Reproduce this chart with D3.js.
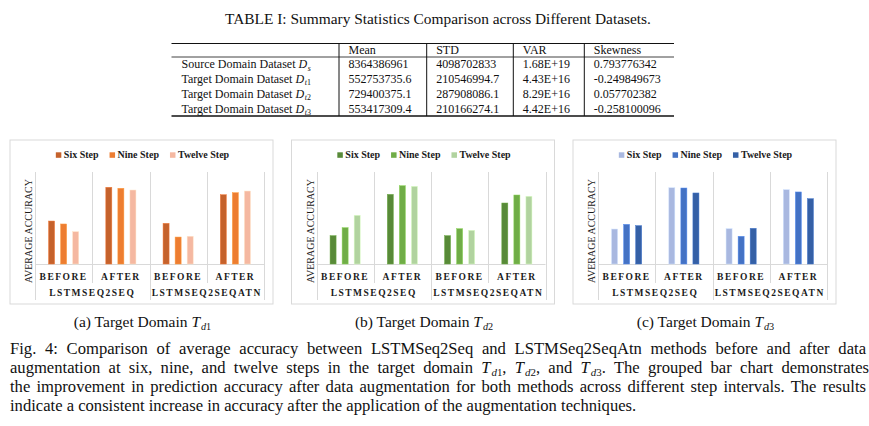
<!DOCTYPE html>
<html>
<head>
<meta charset="utf-8">
<script src="https://cdn.jsdelivr.net/npm/d3@7"></script>
<style>
  body { margin: 0; background: #fff; }
  svg { display: block; }
</style>
</head>
<body>
<div id="fig"></div>
<script>
// table I values (kept as printed)
var tableHeader = ["Mean", "STD", "VAR", "Skewness"];
var datasetNames = ["Source Domain Dataset", "Target Domain Dataset", "Target Domain Dataset", "Target Domain Dataset"];
var datasetSubs = [["s"], ["t", "1"], ["t", "2"], ["t", "3"]];
var meanValues = ["8364386961", "552753735.6", "729400375.1", "553417309.4"];
var stdValues = ["4098702833", "210546994.7", "287908086.1", "210166274.1"];
var varValues = ["1.68E+19", "4.43E+16", "8.29E+16", "4.42E+16"];
var skewValues = ["0.793776342", "-0.249849673", "0.057702382", "-0.258100096"];

// bar charts (average accuracy, relative, no ticks in the source)
var methods = ["LSTMSEQ2SEQ", "LSTMSEQ2SEQATN"];
var phases = ["BEFORE", "AFTER"];
var steps = ["Six Step", "Nine Step", "Twelve Step"];

var td1Six = [0.467, 0.834, 0.442, 0.753];
var td1Nine = [0.435, 0.823, 0.293, 0.775];
var td1Twelve = [0.351, 0.804, 0.301, 0.793];

var td2Six = [0.308, 0.757, 0.308, 0.663];
var td2Nine = [0.395, 0.851, 0.384, 0.750];
var td2Twelve = [0.529, 0.844, 0.366, 0.736];

var td3Six = [0.380, 0.829, 0.384, 0.808];
var td3Nine = [0.431, 0.826, 0.301, 0.783];
var td3Twelve = [0.417, 0.772, 0.388, 0.710];

var subCaptions = ["(a)", "(b)", "(c)"];
var subIndex = ["1", "2", "3"];

var serif = "'Liberation Serif', 'Times New Roman', serif";
var ink = "#111";

var svg = d3.select("#fig").append("svg")
  .attr("width", 869)
  .attr("height", 426);

// writes text made of parts: [string, style] with style "" / "i" / "si" (sub italic) / "s" (sub)
function rich(sel, parts, fs) {
  var inSub = false;
  parts.forEach(function(p) {
    var sub = p[1].indexOf("s") >= 0;
    var t = sel.append("tspan").text(p[0]);
    if (p[1].indexOf("i") >= 0) t.attr("font-style", "italic");
    if (sub) t.attr("font-size", fs * 0.66);
    if (sub && !inSub) t.attr("dy", fs * 0.2).attr("dx", fs * 0.06);
    if (!sub && inSub) t.attr("dy", -fs * 0.2);
    inSub = sub;
  });
  return sel;
}

// ---------- table ----------
var tLeft = 171.5, tRight = 674;
var colSeps = [339, 426.7, 513.3, 584.3];
var tTop = 43.5, headRule = 57, rowH = 14.75;
var tBottom = headRule + rowH * 4;

svg.append("text")
  .attr("x", 438).attr("y", 23.5)
  .attr("text-anchor", "middle")
  .attr("font-family", serif).attr("font-size", 15.4).attr("fill", ink)
  .text("TABLE I: Summary Statistics Comparison across Different Datasets.");

var table = svg.append("g").attr("font-family", serif).attr("font-size", 12).attr("fill", ink);

table.append("line").attr("x1", tLeft).attr("x2", tRight).attr("y1", tTop).attr("y2", tTop)
  .attr("stroke", ink).attr("stroke-width", 1.2);
table.append("line").attr("x1", tLeft).attr("x2", tRight).attr("y1", headRule).attr("y2", headRule)
  .attr("stroke", ink).attr("stroke-width", 0.8);
table.append("line").attr("x1", tLeft).attr("x2", tRight).attr("y1", tBottom).attr("y2", tBottom)
  .attr("stroke", ink).attr("stroke-width", 1.5);
colSeps.forEach(function(x) {
  table.append("line").attr("x1", x).attr("x2", x).attr("y1", tTop).attr("y2", tBottom)
    .attr("stroke", ink).attr("stroke-width", 1);
});

tableHeader.forEach(function(h, i) {
  table.append("text").attr("x", colSeps[i] + 9.5).attr("y", headRule - 3.3).text(h);
});

var columns = [meanValues, stdValues, varValues, skewValues];
datasetNames.forEach(function(name, r) {
  var yb = headRule + rowH * (r + 1) - 3.5;
  var lab = table.append("text").attr("x", tLeft + 10).attr("y", yb);
  var parts = [[name + " ", ""], ["D", "i"], [datasetSubs[r][0], "si"]];
  if (datasetSubs[r][1]) parts.push([datasetSubs[r][1], "s"]);
  rich(lab, parts, 12);
  columns.forEach(function(col, c) {
    table.append("text").attr("x", colSeps[c] + 9.5).attr("y", yb).text(col[r]);
  });
});

// ---------- bar charts ----------
var chartData = [
  { x: 10, values: [td1Six, td1Nine, td1Twelve], colors: ["#c5622c", "#ed7d31", "#f5b8a1"] },
  { x: 291.5, values: [td2Six, td2Nine, td2Twelve], colors: ["#588a38", "#70ad47", "#b1d39f"] },
  { x: 573, values: [td3Six, td3Nine, td3Twelve], colors: ["#a9b8e0", "#4472c4", "#3560a6"] }
];

var groupKeys = [];
methods.forEach(function(m) {
  phases.forEach(function(p) { groupKeys.push(m + "|" + p); });
});

var boxW = 263, boxTop = 140, boxH = 164;
var plotTop = 172, plotBase = 264;

chartData.forEach(function(ch, ci) {
  var g = svg.append("g");
  var plotL = ch.x + 25, plotR = ch.x + 254;

  g.append("rect")
    .attr("x", ch.x).attr("y", boxTop).attr("width", boxW).attr("height", boxH)
    .attr("fill", "#fff").attr("stroke", "#d9d9d9").attr("stroke-width", 1);

  var x0 = d3.scaleBand().domain(groupKeys).range([plotL, plotR]);
  var x1 = d3.scaleBand().domain(steps).range([0, x0.bandwidth()])
    .paddingInner(0.5).paddingOuter(1.125);
  var xm = d3.scaleBand().domain(methods).range([plotL, plotR]);
  var y = d3.scaleLinear().domain([0, 1]).range([plotBase, plotTop]);

  // vertical separators between categories
  d3.range(groupKeys.length + 1).forEach(function(k) {
    var xx = Math.round(plotL + k * x0.step()) + 0.5;
    g.append("line")
      .attr("x1", xx).attr("x2", xx)
      .attr("y1", plotTop).attr("y2", k % 2 === 0 ? 300 : 283)
      .attr("stroke", "#d9d9d9").attr("stroke-width", 1);
  });

  g.append("line")
    .attr("x1", plotL).attr("x2", plotR)
    .attr("y1", plotBase + 0.5).attr("y2", plotBase + 0.5)
    .attr("stroke", "#d9d9d9").attr("stroke-width", 1);

  // bars
  steps.forEach(function(s, si) {
    g.selectAll(null)
      .data(ch.values[si])
      .enter()
      .append("rect")
      .attr("x", function(d, j) { return x0(groupKeys[j]) + x1(s); })
      .attr("y", function(d) { return y(d); })
      .attr("width", x1.bandwidth())
      .attr("height", function(d) { return plotBase - y(d); })
      .attr("fill", ch.colors[si])
      .attr("stroke", d3.color(ch.colors[si]).brighter(0.6))
      .attr("stroke-width", 0.5);
  });

  // category axis (inner and outer level)
  var inner = g.append("g")
    .attr("transform", "translate(0," + plotBase + ")")
    .call(d3.axisBottom(x0).tickSize(0).tickPadding(9)
      .tickFormat(function(k) { return k.split("|")[1]; }));
  var outer = g.append("g")
    .attr("transform", "translate(0," + plotBase + ")")
    .call(d3.axisBottom(xm).tickSize(0).tickPadding(25));
  [inner, outer].forEach(function(a) {
    a.select(".domain").remove();
    a.selectAll("text")
      .attr("font-family", serif).attr("font-size", 9.5)
      .attr("font-weight", "bold").attr("letter-spacing", 1.5)
      .attr("fill", "#1a1a1a");
  });

  // y axis title
  g.append("text")
    .attr("transform", "translate(" + (ch.x + 22) + "," + 231 + ") rotate(-90)")
    .attr("text-anchor", "middle")
    .attr("font-family", serif).attr("font-size", 10).attr("fill", "#1a1a1a")
    .text("AVERAGE ACCURACY");

  // legend
  var leg = g.append("g").attr("font-family", serif).attr("font-size", 10)
    .attr("font-weight", "bold").attr("fill", "#1a1a1a");
  var items = steps.map(function(s, si) {
    var it = leg.append("g");
    it.append("rect").attr("width", 5.5).attr("height", 5.5).attr("y", -5.2)
      .attr("fill", ch.colors[si]);
    var t = it.append("text").attr("x", 8).attr("y", 0).text(s);
    return { g: it, w: 8 + t.node().getComputedTextLength() };
  });
  var total = d3.sum(items, function(d) { return d.w; }) + 11 * (items.length - 1);
  var lx = ch.x + boxW / 2 + 1 - total / 2;
  items.forEach(function(it) {
    it.g.attr("transform", "translate(" + lx + ",157.5)");
    lx += it.w + 11;
  });

  // sub caption
  var cap = svg.append("text")
    .attr("x", ch.x + boxW / 2 + 1).attr("y", 327)
    .attr("text-anchor", "middle")
    .attr("font-family", serif).attr("font-size", 15.5).attr("fill", ink);
  rich(cap, [[subCaptions[ci] + " Target Domain ", ""], ["T", "i"], ["d", "si"], [subIndex[ci], "s"]], 15.5);
});

// ---------- figure caption ----------
var capSize = 16.6;
var capLines = [
  [["Fig. 4: Comparison of average accuracy between LSTMSeq2Seq and LSTMSeq2SeqAtn methods before and after data", ""]],
  [["augmentation at six, nine, and twelve steps in the target domain ", ""], ["T", "i"], ["d", "si"], ["1", "s"],
   [", ", ""], ["T", "i"], ["d", "si"], ["2", "s"], [", and ", ""], ["T", "i"], ["d", "si"], ["3", "s"],
   [". The grouped bar chart demonstrates", ""]],
  [["the improvement in prediction accuracy after data augmentation for both methods across different step intervals. The results", ""]],
  [["indicate a consistent increase in accuracy after the application of the augmentation techniques.", ""]]
];
var capBase = [354, 373, 392, 410.5];

capLines.forEach(function(parts, i) {
  var t = svg.append("text")
    .attr("x", 10).attr("y", capBase[i])
    .attr("font-family", serif).attr("font-size", capSize).attr("fill", ink);
  rich(t, parts, capSize);
  if (i < capLines.length - 1) {
    var natural = t.node().getComputedTextLength();
    var spaces = parts.map(function(p) { return p[0]; }).join("").split(" ").length - 1;
    t.style("word-spacing", ((856 - natural) / spaces) + "px");
  }
});
</script>
</body>
</html>
